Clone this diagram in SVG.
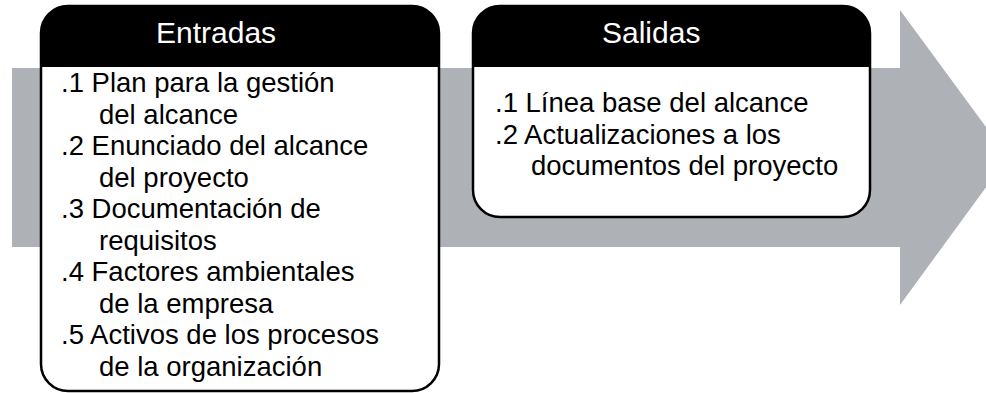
<svg xmlns="http://www.w3.org/2000/svg" width="986" height="393" viewBox="0 0 986 393">
<style>
.arrow{fill:#aeb1b5}
.box{fill:#ffffff;stroke:#000;stroke-width:2.5}
.hdr{fill:#000}
.ht{font-family:"Liberation Sans",Arial,sans-serif;font-size:30px;fill:#fff}
.bt{font-family:"Liberation Sans",Arial,sans-serif;font-size:27.5px;fill:#000}
</style>
<rect width="986" height="393" fill="#fff"/>
<g id="connectors">
<path class="arrow" d="M12,68 L900,68 L900,10 L1008,157 L900,305 L900,247 L12,247 Z"/>
</g>
<g id="entradas">
<rect class="box" x="41" y="6" width="398" height="385" rx="27" ry="27"/>
<path class="hdr" d="M41,67 L41,33 A27,27 0 0 1 68,6 L412,6 A27,27 0 0 1 439,33 L439,67 Z"/>
<text class="ht" x="156" y="43">Entradas</text>
<text class="bt" x="61" y="92">.1 Plan para la gestión</text>
<text class="bt" x="99" y="123.5">del alcance</text>
<text class="bt" x="61" y="155">.2 Enunciado del alcance</text>
<text class="bt" x="99" y="186.5">del proyecto</text>
<text class="bt" x="61" y="218">.3 Documentación de</text>
<text class="bt" x="99" y="249.5">requisitos</text>
<text class="bt" x="61" y="281">.4 Factores ambientales</text>
<text class="bt" x="99" y="312.5">de la empresa</text>
<text class="bt" x="61" y="344">.5 Activos de los procesos</text>
<text class="bt" x="99" y="375.5">de la organización</text>
</g>
<g id="salidas">
<rect class="box" x="473" y="6" width="397" height="211" rx="27" ry="27"/>
<path class="hdr" d="M473,67 L473,33 A27,27 0 0 1 500,6 L843,6 A27,27 0 0 1 870,33 L870,67 Z"/>
<text class="ht" x="602" y="43">Salidas</text>
<text class="bt" x="495" y="112">.1 Línea base del alcance</text>
<text class="bt" x="495" y="143.5">.2 Actualizaciones a los</text>
<text class="bt" x="531" y="175">documentos del proyecto</text>
</g>
</svg>
